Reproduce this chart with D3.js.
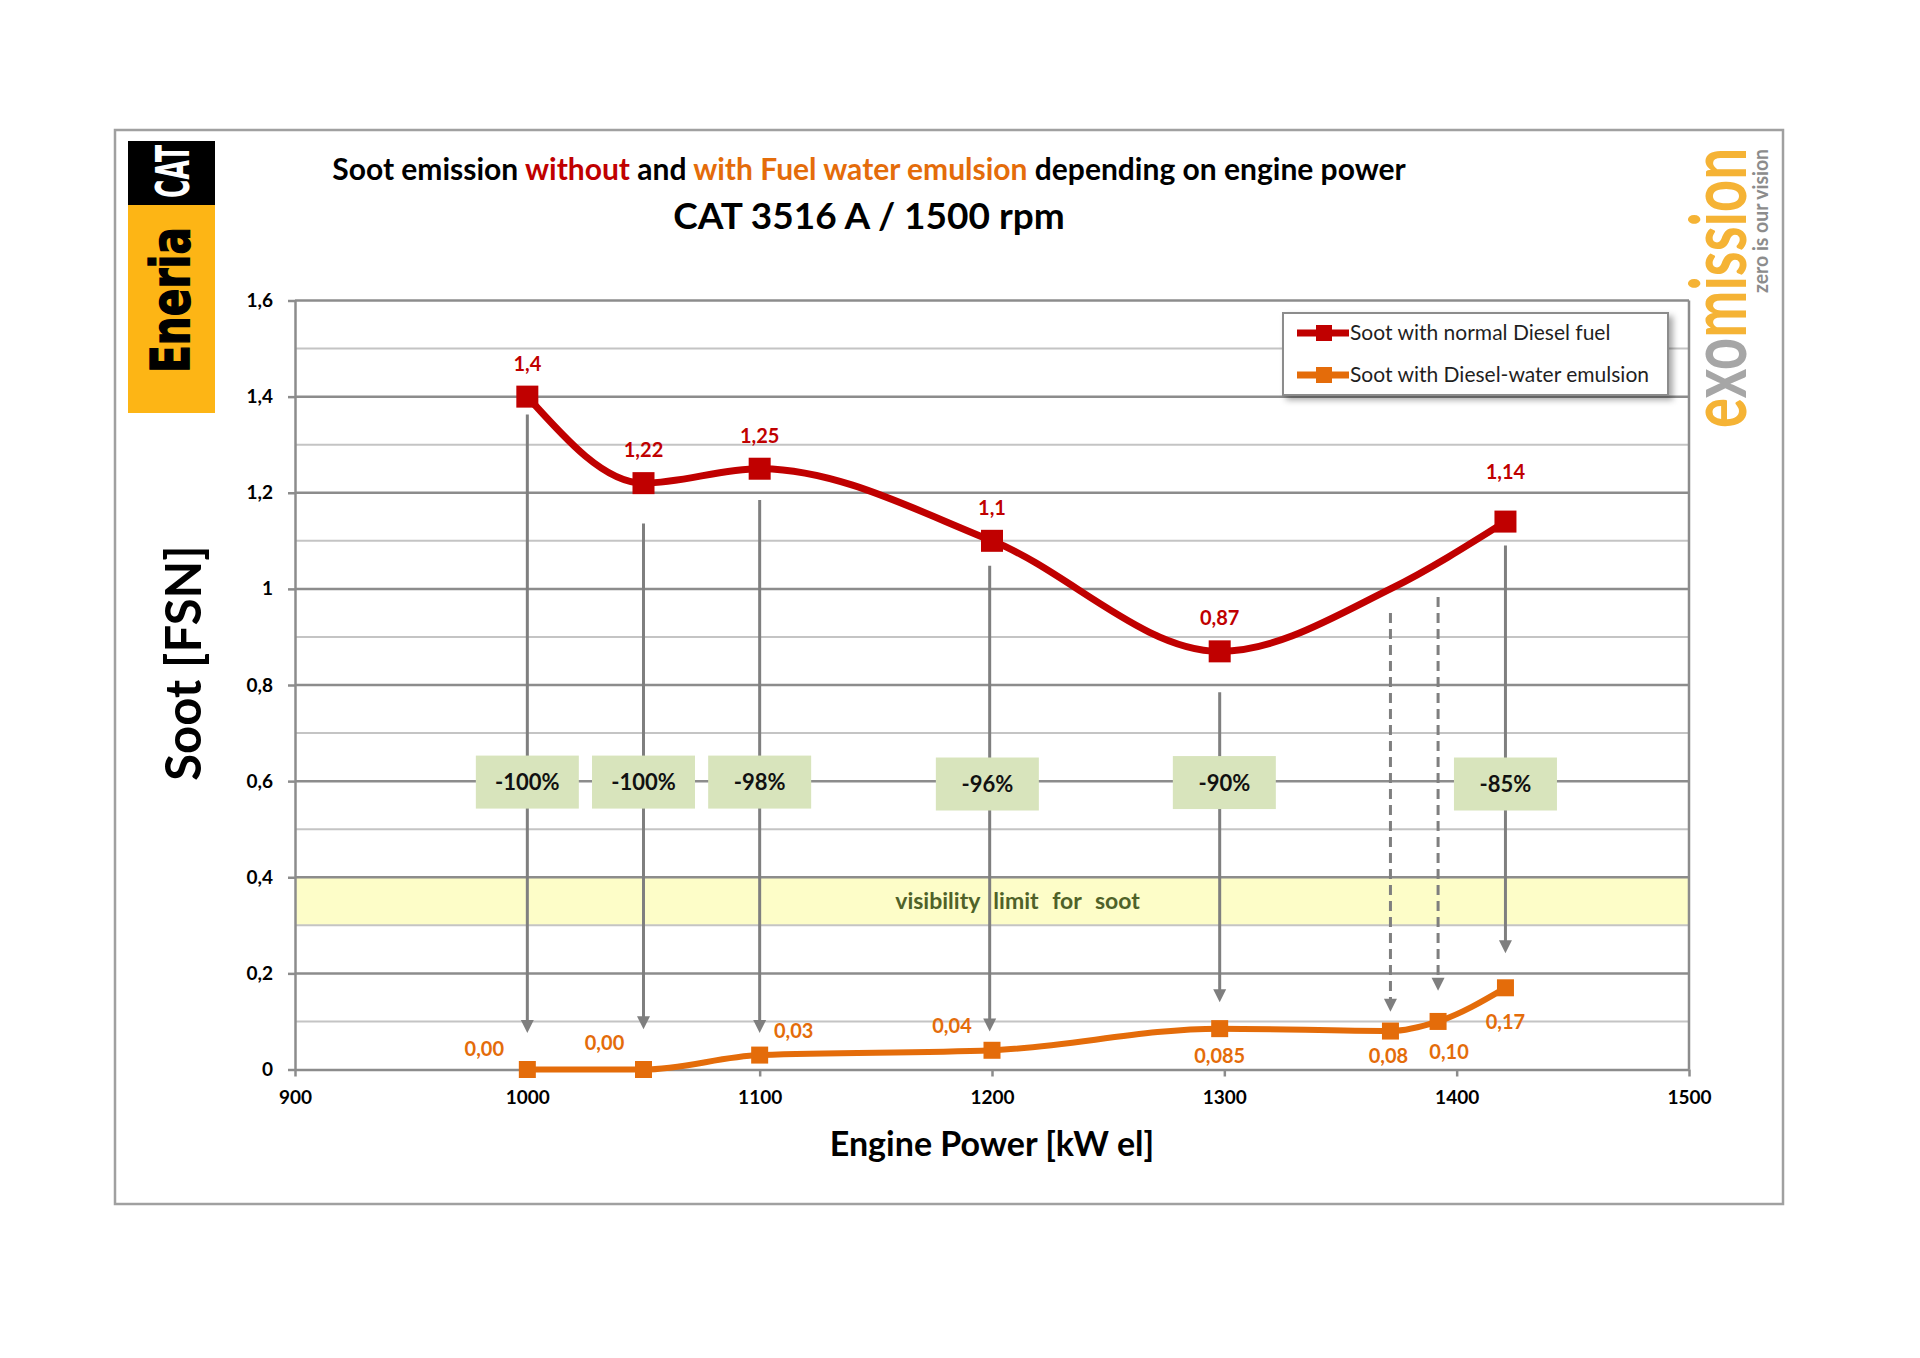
<!DOCTYPE html>
<html>
<head>
<meta charset="utf-8">
<script src="https://cdn.jsdelivr.net/npm/d3@7"></script>
<style>
  body { margin: 0; background: #fff; }
  text { font-family: Lato, "Open Sans", sans-serif; }
</style>
</head>
<body>
<svg id="chart" width="1920" height="1358"></svg>
<script>
// soot with normal diesel (the 1371.5 point carries the curve only, no marker)
var dieselPower = [1000, 1050, 1100, 1200, 1298, 1371.5, 1421];
var dieselSoot = [1.4, 1.22, 1.25, 1.1, 0.87, 1.0, 1.14];
var dieselLabels = ['1,4', '1,22', '1,25', '1,1', '0,87', '', '1,14'];

// soot with diesel-water emulsion
var emulsionPower = [1000, 1050, 1100, 1200, 1298, 1371.5, 1392, 1421];
var emulsionSoot = [0, 0, 0.03, 0.04, 0.085, 0.08, 0.10, 0.17];
var emulsionLabels = ['0,00', '0,00', '0,03', '0,04', '0,085', '0,08', '0,10', '0,17'];

// arrows from the red curve down to the orange one
var arrowPower = [1000, 1050, 1100, 1199, 1298, 1371.5, 1392, 1421];
var arrowFrom = [1.363, 1.136, 1.185, 1.048, 0.785, 0.95, 0.983, 1.09];
var arrowTo = [0.076, 0.084, 0.076, 0.079, 0.14, 0.12, 0.164, 0.242];
var arrowDashed = [false, false, false, false, false, true, true, false];

// reduction boxes
var reductionPower = [1000, 1050, 1100, 1198, 1300, 1421];
var reductionSoot = [0.598, 0.598, 0.598, 0.594, 0.597, 0.594];
var reductionLabels = ['-100%', '-100%', '-98%', '-96%', '-90%', '-85%'];

var visibilityBand = [0.3, 0.4];
var xTicks = [900, 1000, 1100, 1200, 1300, 1400, 1500];
var legendLabels = ['Soot with normal Diesel fuel', 'Soot with Diesel-water emulsion'];

var RED = '#c00000', ORANGE = '#e46c0a';

// label placement around the points
var dieselLabelDy = [-33, -33, -33, -33, -33, 0, -50];
var emulsionLabelDx = [-43, -39, 34, -40, 0, -2, 11, 0];
var emulsionLabelDy = [-21, -27, -24, -24, 27, 25, 31, 34];

var svg = d3.select('#chart');

var x = d3.scaleLinear().domain([900, 1500]).range([295, 1689]);
var y = d3.scaleLinear().domain([0, 1.6]).range([1069.5, 300.5]);

function fmt(v) { return String(+v.toFixed(1)).replace('.', ','); }

// outer frame
svg.append('rect')
    .attr('x', 115).attr('y', 130).attr('width', 1668).attr('height', 1074)
    .attr('fill', 'none').attr('stroke', '#a0a0a0').attr('stroke-width', 2.5);

// visibility band
svg.append('rect')
    .attr('x', x(900)).attr('width', x(1500) - x(900))
    .attr('y', y(visibilityBand[1])).attr('height', y(visibilityBand[0]) - y(visibilityBand[1]))
    .attr('fill', '#fdfdc8');

// gridlines
var grid = svg.append('g');
grid.selectAll('.minor')
    .data(y.ticks(16).filter(function(d) { return Math.round(d * 10) % 2 === 1; }))
    .enter().append('line')
    .attr('x1', x(900)).attr('x2', x(1500))
    .attr('y1', function(d) { return y(d); }).attr('y2', function(d) { return y(d); })
    .attr('stroke', '#c4c4c4').attr('stroke-width', 2);
grid.selectAll('.major')
    .data(y.ticks(8).filter(function(d) { return d > 0; }))
    .enter().append('line')
    .attr('x1', x(900)).attr('x2', x(1500))
    .attr('y1', function(d) { return y(d); }).attr('y2', function(d) { return y(d); })
    .attr('stroke', '#8c8c8c').attr('stroke-width', 2.5);
grid.append('line')
    .attr('x1', x(1500)).attr('x2', x(1500)).attr('y1', y(1.6)).attr('y2', y(0))
    .attr('stroke', '#8c8c8c').attr('stroke-width', 2.5);

// axes
var xAxis = svg.append('g')
    .attr('transform', 'translate(0,' + y(0) + ')')
    .call(d3.axisBottom(x).tickValues(xTicks).tickFormat(d3.format('d'))
        .tickSize(7).tickPadding(14).tickSizeOuter(0));
var yAxis = svg.append('g')
    .attr('transform', 'translate(' + x(900) + ',0)')
    .call(d3.axisLeft(y).ticks(8).tickFormat(fmt).tickSize(7).tickPadding(15).tickSizeOuter(0));
[xAxis, yAxis].forEach(function(a) {
    a.select('.domain').attr('stroke', '#8c8c8c').attr('stroke-width', 2.5);
    a.selectAll('.tick line').attr('stroke', '#8c8c8c').attr('stroke-width', 2.5);
    a.selectAll('.tick text').attr('fill', '#000').style('font-size', '19px').style('font-weight', 'bold');
});

// band text
svg.append('text')
    .attr('x', x(1211)).attr('y', y(0.35) + 8)
    .attr('text-anchor', 'middle')
    .style('font-size', '23px').style('font-weight', 'bold').style('word-spacing', '8px')
    .attr('fill', '#4f6228')
    .text('visibility limit for soot');

// arrows
var arrowG = svg.append('g');
arrowPower.forEach(function(p, i) {
    var tipY = y(arrowTo[i]);
    arrowG.append('line')
        .attr('x1', x(p)).attr('x2', x(p))
        .attr('y1', y(arrowFrom[i])).attr('y2', tipY - 11)
        .attr('stroke', '#7f7f7f').attr('stroke-width', 3)
        .attr('stroke-dasharray', arrowDashed[i] ? '10,6' : null);
    arrowG.append('path')
        .attr('d', 'M' + (x(p) - 6.5) + ',' + (tipY - 13) + 'L' + (x(p) + 6.5) + ',' + (tipY - 13) + 'L' + x(p) + ',' + tipY + 'Z')
        .attr('fill', '#7f7f7f');
});

// reduction boxes
var boxG = svg.selectAll('.reduction')
    .data(reductionLabels)
    .enter().append('g')
    .attr('transform', function(d, i) { return 'translate(' + x(reductionPower[i]) + ',' + y(reductionSoot[i]) + ')'; });
boxG.append('rect')
    .attr('x', -51.5).attr('y', -26.5).attr('width', 103).attr('height', 53)
    .attr('fill', '#d8e4bc');
boxG.append('text')
    .attr('text-anchor', 'middle').attr('y', 8)
    .style('font-size', '22px').style('font-weight', 'bold')
    .attr('fill', '#111')
    .text(function(d) { return d; });

// lines
var line = d3.line().curve(d3.curveMonotoneX);
svg.append('path')
    .attr('d', line(dieselPower.map(function(p, i) { return [x(p), y(dieselSoot[i])]; })))
    .attr('fill', 'none').attr('stroke', RED).attr('stroke-width', 7);
svg.append('path')
    .attr('d', line(emulsionPower.map(function(p, i) { return [x(p), y(emulsionSoot[i])]; })))
    .attr('fill', 'none').attr('stroke', ORANGE).attr('stroke-width', 6);

// markers
svg.selectAll('.red-marker')
    .data(dieselPower.filter(function(p, i) { return dieselLabels[i] !== ''; }))
    .enter().append('rect')
    .attr('x', function(d) { return x(d) - 11; })
    .attr('y', function(d) { return y(dieselSoot[dieselPower.indexOf(d)]) - 11; })
    .attr('width', 22).attr('height', 22)
    .attr('fill', RED);
svg.selectAll('.orange-marker')
    .data(emulsionPower)
    .enter().append('rect')
    .attr('x', function(d) { return x(d) - 8.5; })
    .attr('y', function(d, i) { return y(emulsionSoot[i]) - 8.5; })
    .attr('width', 17).attr('height', 17)
    .attr('fill', ORANGE);

// data labels
svg.selectAll('.red-label')
    .data(dieselLabels)
    .enter().append('text')
    .attr('x', function(d, i) { return x(dieselPower[i]); })
    .attr('y', function(d, i) { return y(dieselSoot[i]) + dieselLabelDy[i] + 7; })
    .attr('text-anchor', 'middle')
    .style('font-size', '20px').style('font-weight', 'bold')
    .attr('fill', RED)
    .text(function(d) { return d; });
svg.selectAll('.orange-label')
    .data(emulsionLabels)
    .enter().append('text')
    .attr('x', function(d, i) { return x(emulsionPower[i]) + emulsionLabelDx[i]; })
    .attr('y', function(d, i) { return y(emulsionSoot[i]) + emulsionLabelDy[i] + 7; })
    .attr('text-anchor', 'middle')
    .style('font-size', '20px').style('font-weight', 'bold')
    .attr('fill', ORANGE)
    .text(function(d) { return d; });

// legend
var defs = svg.append('defs');
var shadow = defs.append('filter').attr('id', 'shadow').attr('x', '-10%').attr('y', '-20%').attr('width', '130%').attr('height', '160%');
shadow.append('feDropShadow').attr('dx', 4).attr('dy', 4).attr('stdDeviation', 3).attr('flood-color', '#000').attr('flood-opacity', 0.35);

var legend = svg.append('g').attr('transform', 'translate(1283,313)');
legend.append('rect')
    .attr('width', 385).attr('height', 82)
    .attr('fill', '#fff').attr('stroke', '#8c8c8c').attr('stroke-width', 2)
    .attr('filter', 'url(#shadow)');
[RED, ORANGE].forEach(function(c, i) {
    var ly = 20 + i * 42;
    legend.append('line').attr('x1', 14).attr('x2', 66).attr('y1', ly).attr('y2', ly)
        .attr('stroke', c).attr('stroke-width', 7);
    legend.append('rect').attr('x', 33).attr('y', ly - 8).attr('width', 16).attr('height', 16).attr('fill', c);
    legend.append('text').attr('x', 67).attr('y', ly + 7)
        .style('font-size', '21px').attr('fill', '#1f1f1f')
        .text(legendLabels[i]);
});

// titles
var title = svg.append('text')
    .attr('x', 869).attr('y', 180).attr('text-anchor', 'middle')
    .style('font-size', '30px').style('font-weight', 'bold').attr('fill', '#000');
title.append('tspan').text('Soot emission ');
title.append('tspan').attr('fill', RED).text('without');
title.append('tspan').text(' and ');
title.append('tspan').attr('fill', ORANGE).text('with Fuel water emulsion');
title.append('tspan').text(' depending on engine power');

svg.append('text')
    .attr('x', 869).attr('y', 229).attr('text-anchor', 'middle')
    .style('font-size', '37px').style('font-weight', 'bold').attr('fill', '#000')
    .text('CAT 3516 A / 1500 rpm');

svg.append('text')
    .attr('transform', 'translate(201,663) rotate(-90)')
    .attr('text-anchor', 'middle')
    .style('font-size', '49px').style('font-weight', 'bold').attr('fill', '#000')
    .text('Soot [FSN]');

svg.append('text')
    .attr('x', 992).attr('y', 1156).attr('text-anchor', 'middle')
    .style('font-size', '34px').style('font-weight', 'bold').attr('fill', '#000')
    .text('Engine Power [kW el]');

// Eneria / CAT logo
svg.append('rect').attr('x', 128).attr('y', 141).attr('width', 87).attr('height', 64).attr('fill', '#000');
svg.append('rect').attr('x', 128).attr('y', 205).attr('width', 87).attr('height', 208).attr('fill', '#fdb515');
svg.append('text')
    .attr('transform', 'translate(189,198) rotate(-90)')
    .attr('textLength', 53).attr('lengthAdjust', 'spacingAndGlyphs')
    .style('font-family', '"DejaVu Sans", sans-serif')
    .style('font-size', '46px').style('font-weight', 'bold').attr('fill', '#fff')
    .text('CAT');
svg.append('text')
    .attr('transform', 'translate(189,373) rotate(-90)')
    .attr('textLength', 146).attr('lengthAdjust', 'spacingAndGlyphs')
    .style('font-family', '"DejaVu Sans", sans-serif')
    .style('font-size', '54px').style('font-weight', 'bold').attr('fill', '#000')
    .attr('stroke', '#000').attr('stroke-width', 1.5)
    .text('Eneria');

// exomission logo
var exo = svg.append('text')
    .attr('transform', 'translate(1746,428) rotate(-90)')
    .attr('textLength', 280).attr('lengthAdjust', 'spacingAndGlyphs')
    .style('font-size', '78px').style('font-weight', 'bold');
exo.append('tspan').attr('fill', '#f5b335').text('e');
exo.append('tspan').attr('fill', '#a6a6a6').text('xo');
exo.append('tspan').attr('fill', '#f5b335').text('mission');
svg.append('text')
    .attr('transform', 'translate(1768,293) rotate(-90)')
    .attr('textLength', 144).attr('lengthAdjust', 'spacingAndGlyphs')
    .style('font-size', '20px').style('font-weight', 'bold').attr('fill', '#8c8c8c')
    .text('zero is our vision');
</script>
</body>
</html>
